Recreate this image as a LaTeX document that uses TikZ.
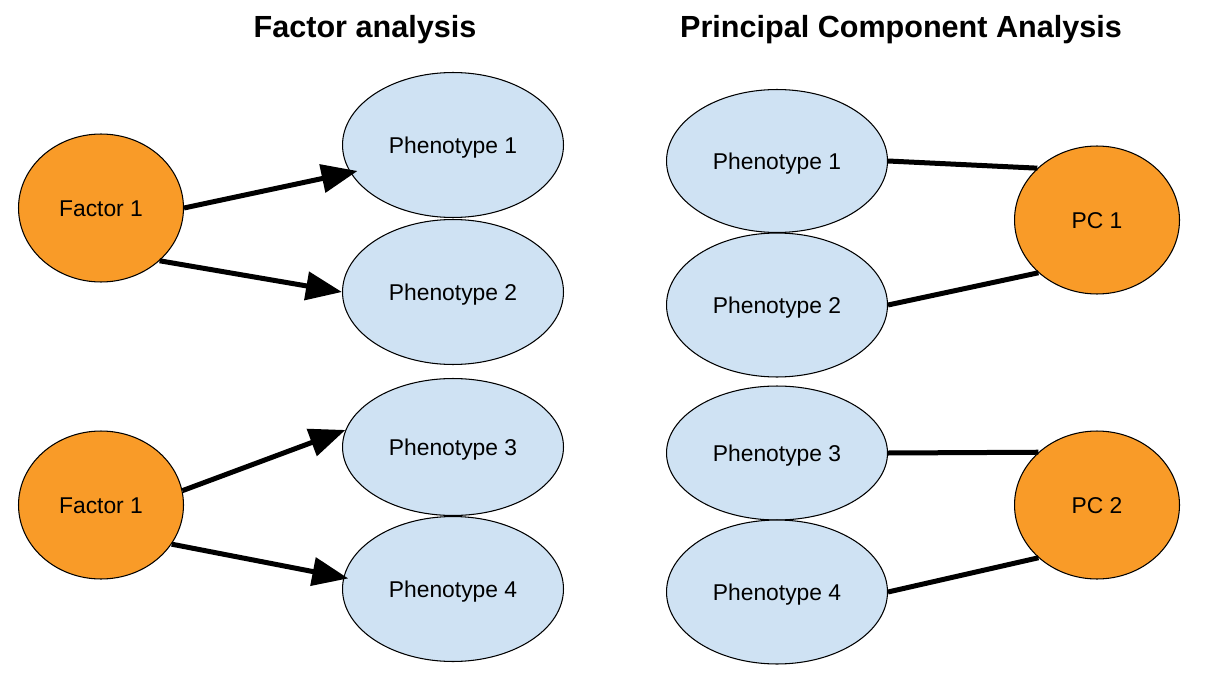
\documentclass[tikz,border=0pt]{standalone}
\usepackage{fontspec}
\setmainfont{Liberation Sans}
\usetikzlibrary{positioning, shapes.geometric, arrows.meta}
\definecolor{phenoblue}{HTML}{CFE2F3}
\definecolor{factororange}{HTML}{F99B28}

\begin{document}
\begin{tikzpicture}[x=0.02cm, y=-0.02cm, ->, >={Triangle[length=0.72cm, width=0.56cm]},
        line width=0.1cm,
        pheno node/.style={ellipse, draw, line width=0.6pt, fill=phenoblue, inner sep=0pt,
        minimum width=4.42cm, minimum height=2.9cm, text height=9.3pt, text depth=0pt,
        font=\fontsize{13}{15}\selectfont},
        factor node/.style={ellipse, draw, line width=0.6pt, fill=factororange, inner sep=0pt,
        minimum width=3.3cm, minimum height=2.96cm, text height=9.3pt, text depth=0pt,
        font=\fontsize{13}{15}\selectfont},
        title node/.style={font=\fontsize{17.4}{20}\selectfont\bfseries}]
        \useasboundingbox (0,0) rectangle (1212,672);

        \node[title node] (fatitle) at (365,30) {Factor analysis};
        \node[title node] (pctitle) at (901,30) {Principal Component Analysis};

        % factor analysis
        \node[factor node] (fa1) at (101,208) {Factor 1};
        \node[factor node] (fa2) at (101,505) {Factor 1};
        \node[pheno node] (pa1) at (453,145) {Phenotype 1};
        \node[pheno node] (pa2) at (453,292) {Phenotype 2};
        \node[pheno node, minimum height=2.74cm] (pa3) at (453,447) {Phenotype 3};
        \node[pheno node] (pa4) at (453,589) {Phenotype 4};

        \draw[shorten >=-0.15cm] (fa1.east) -- (pa1.195);
        \draw (fa1.-42) -- (pa2.west);
        \draw (fa2.10) -- (pa3.171);
        \draw[shorten >=-0.1cm] (fa2.-29) -- (pa4.174);

        % principal components
        \node[pheno node, minimum height=2.86cm] (pb1) at (777,161) {Phenotype 1};
        \node[pheno node, minimum height=2.88cm] (pb2) at (777,305) {Phenotype 2};
        \node[pheno node, minimum height=2.68cm] (pb3) at (777,453) {Phenotype 3};
        \node[pheno node, minimum height=2.88cm] (pb4) at (777,592) {Phenotype 4};
        \node[factor node] (pc1) at (1097,220) {PC 1};
        \node[factor node] (pc2) at (1097,505) {PC 2};

        \draw[-] (pb1.east) -- (pc1.139);
        \draw[-] (pb2.east) -- (pc1.222);
        \draw[-] (pb3.east) -- (pc2.138);
        \draw[-] (pb4.east) -- (pc2.222);
    \end{tikzpicture}
\end{document}
